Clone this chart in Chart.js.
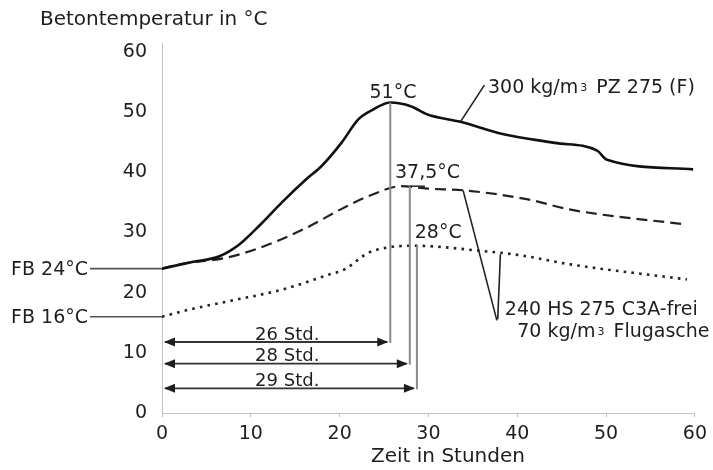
<!DOCTYPE html>
<html>
<head>
<meta charset="utf-8">
<script src="https://cdn.jsdelivr.net/npm/chart.js@4"></script>
<style>
  html, body { margin: 0; padding: 0; background: #fff; }
  #wrap { width: 713px; height: 470px; }
</style>
</head>
<body>
<div id="wrap"><canvas id="chart" width="713" height="470"></canvas></div>
<script>
// Values (hours, °C)
const hoursPZ = [0, 3.4, 6.4, 8.7, 11.2, 13.5, 16.2, 18, 20.2, 22.1, 23.6, 25.7, 28, 29.9, 33.6, 38.6, 44.2, 49, 50.1, 59.8];
const tempsPZ = [24, 25.1, 26, 28, 31.5, 35, 38.8, 41.1, 44.9, 48.8, 50.3, 51.6, 51, 49.6, 48.4, 46.3, 44.9, 43.6, 42.1, 40.5];

const hoursHS24 = [0, 2.3, 7.2, 10.9, 16, 20.7, 23.5, 26.9, 29.9, 34.1, 41.2, 46, 59.1];
const tempsHS24 = [24, 24.8, 25.8, 27.4, 30.6, 34.3, 36.2, 37.7, 37.3, 37, 35.5, 33.8, 31.3];

const hoursHS16 = [0, 3.1, 7.9, 13.5, 18.8, 20.6, 23.2, 25.8, 28.5, 35.6, 40.4, 46, 59.1];
const tempsHS16 = [16, 17.2, 18.7, 20.5, 23, 23.9, 26.6, 27.6, 27.8, 27, 26.2, 24.7, 22.2];

const peakHours = [25.7, 27.9, 28.7];
const peakTemps = [51.6, 37.7, 27.8];
const peakTempLabels = ['51°C', '37,5°C', '28°C'];
const durationLabels = ['26 Std.', '28 Std.', '29 Std.'];
const freshTemps = [24, 16];
const freshLabels = ['FB 24°C', 'FB 16°C'];

const xTicks = [0, 10, 20, 30, 40, 50, 60];
const yTicks = [0, 10, 20, 30, 40, 50, 60];

const FONT = 'DejaVu Sans';
const INK = '#1e1e1e';

function toPoints(xs, ys) {
    return xs.map((x, i) => ({ x: x, y: ys[i] }));
}

// Draws the hand-placed notes of the figure, all positioned through the chart scales
const notesPlugin = {
    id: 'notes',
    afterDatasetsDraw(chart) {
        const ctx = chart.ctx;
        const px = v => chart.scales.x.getPixelForValue(v);
        const py = v => chart.scales.y.getPixelForValue(v);

        function line(x1, y1, x2, y2, color, width) {
            ctx.beginPath();
            ctx.moveTo(x1, y1);
            ctx.lineTo(x2, y2);
            ctx.strokeStyle = color;
            ctx.lineWidth = width;
            ctx.stroke();
        }
        function head(x, y, dir) {
            ctx.beginPath();
            ctx.moveTo(x, y);
            ctx.lineTo(x - dir * 11, y - 4.5);
            ctx.lineTo(x - dir * 11, y + 4.5);
            ctx.closePath();
            ctx.fillStyle = INK;
            ctx.fill();
        }
        function text(str, x, y, size, align) {
            ctx.font = size + 'px "' + FONT + '"';
            ctx.fillStyle = INK;
            ctx.textAlign = align || 'left';
            ctx.textBaseline = 'middle';
            ctx.fillText(str, x, y);
        }

        ctx.save();

        // axis titles
        text('Betontemperatur in °C', 40, 20, 20);
        text('Zeit in Stunden', 448, 457, 20, 'center');

        // fresh concrete temperatures
        freshTemps.forEach((t, i) => {
            line(90, py(t), px(0), py(t), '#555', 1.6);
            text(freshLabels[i], 88, py(t) + 1, 19, 'right');
        });

        // peaks, drop lines and duration arrows
        const arrowTemps = [11.8, 8.2, 4.1];
        const labelTemps = [53.1, 39.9, 29.9];
        const labelHours = [26, 29.9, 31.1];
        peakHours.forEach((h, i) => {
            const x = px(h);
            const ya = py(arrowTemps[i]);
            line(x, py(peakTemps[i]), x, ya + 1, '#8a8a8a', 2);
            line(px(0) + 3, ya, x - 3, ya, '#333', 1.8);
            head(px(0) + 2, ya, -1);
            head(x - 2, ya, 1);
            text(durationLabels[i], px(14.1), ya - 7, 18, 'center');
            text(peakTempLabels[i], px(labelHours[i]), py(labelTemps[i]), 19, 'center');
        });
        // small tick where the 37,5 label sits
        line(px(27.9), py(37.7), px(29.6), py(37.7), '#333', 1.6);

        // curve captions and leaders
        line(px(36.3), py(54.5), px(33.6), py(48.4), '#222', 1.6);
        ctx.font = '19px "' + FONT + '"';
        let x0 = px(36.7);
        const yc = py(54.0);
        text('300 kg/m', x0, yc, 19);
        x0 += ctx.measureText('300 kg/m').width + 2;
        text('3', x0, yc, 11);
        x0 += 10;
        text(' PZ 275 (F)', x0, yc, 19);

        line(px(33.9), py(37.0), px(37.7), py(15.4), '#222', 1.6);
        line(px(38.1), py(26.4), px(37.8), py(15.6), '#222', 1.6);
        text('240 HS 275 C3A-frei', px(38.6), py(17.1), 19);
        ctx.font = '19px "' + FONT + '"';
        let x1 = px(40.0);
        const y2 = py(13.5);
        text('70 kg/m', x1, y2, 19);
        x1 += ctx.measureText('70 kg/m').width + 2;
        text('3', x1, y2, 11);
        x1 += 10;
        text(' Flugasche', x1, y2, 19);

        ctx.restore();
    }
};

Chart.defaults.font.family = FONT;
Chart.defaults.font.size = 19;
Chart.defaults.color = INK;

new Chart(document.getElementById('chart'), {
    type: 'line',
    data: {
        datasets: [
            {
                label: '300 kg/m³ PZ 275 (F)',
                data: toPoints(hoursPZ, tempsPZ),
                borderColor: '#111',
                borderWidth: 2.6,
                cubicInterpolationMode: 'monotone'
            },
            {
                label: '240 HS 275 C3A-frei, FB 24°C',
                data: toPoints(hoursHS24, tempsHS24),
                borderColor: '#222',
                borderWidth: 2.2,
                borderDash: [11, 6],
                cubicInterpolationMode: 'monotone'
            },
            {
                label: '240 HS 275 C3A-frei, FB 16°C',
                data: toPoints(hoursHS16, tempsHS16),
                borderColor: '#222',
                borderWidth: 2.6,
                borderDash: [2.6, 5.2],
                cubicInterpolationMode: 'monotone'
            }
        ]
    },
    options: {
        responsive: false,
        animation: false,
        layout: { padding: { left: 0, right: 15, top: 43, bottom: 0 } },
        elements: { point: { radius: 0 } },
        plugins: {
            legend: { display: false },
            tooltip: { enabled: false }
        },
        scales: {
            x: {
                type: 'linear',
                min: 0,
                max: 60,
                afterBuildTicks: s => { s.ticks = xTicks.map(v => ({ value: v })); },
                afterFit: s => { s.height = 57; },
                ticks: { padding: 6, color: INK },
                grid: { drawOnChartArea: false, tickLength: 4, color: '#bdbdbd' },
                border: { color: '#c4c4c4', width: 1 }
            },
            y: {
                min: 0,
                max: 61.5,
                afterBuildTicks: s => { s.ticks = yTicks.map(v => ({ value: v })); },
                afterFit: s => { s.width = 162; },
                ticks: { padding: 7, color: INK },
                grid: { display: false },
                border: { color: '#c4c4c4', width: 1 }
            }
        }
    },
    plugins: [notesPlugin]
});
</script>
</body>
</html>
